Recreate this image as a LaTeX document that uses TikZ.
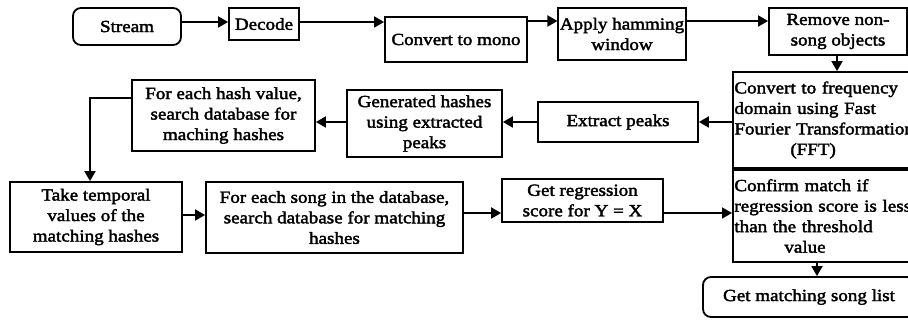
\documentclass[tikz,border=0pt]{standalone}
\usepackage{fontspec}
\setmainfont{Liberation Serif}[FakeStretch=1.12, FakeBold=2.2]
\usetikzlibrary{arrows.meta}
\tikzset{
  box/.style={draw, line width=1.8pt, inner sep=1.5pt, align=center,
    font=\fontsize{17}{20.5}\selectfont},
  lbox/.style={box, align=left, text width=200pt, minimum height=#1, anchor=west},
  rbox/.style={box, rounded corners=8pt},
  flow/.style={line width=1.8pt, -{Triangle[length=10pt,width=11pt]}}
}
\begin{document}
\begin{tikzpicture}[x=1pt, y=-1pt]
\useasboundingbox (0,0) rectangle (908,320);
\clip (0,0) rectangle (908,320);
% top row
\node[rbox, minimum width=108pt, minimum height=37pt] (stream) at (127,26.5) {Stream};
\node[box, minimum width=70pt, minimum height=32pt] (decode) at (264,24) {Decode};
\node[box, minimum width=142pt, minimum height=45pt] (mono) at (456,39.5) {Convert to mono};
\node[box, minimum width=114pt, minimum height=52pt] (hamming) at (622,34) {Apply hamming\\window};
\node[box, minimum width=138pt, minimum height=47pt] (remove) at (838,31.5) {Remove non-\\song objects};
% middle row (boxes on the right run past the edge)
\node[lbox=96pt] (fft) at (732,120)
  {Convert to frequency\\domain using Fast\\Fourier Transformation\\\hspace*{56pt}(FFT)};
\node[box, minimum width=160pt, minimum height=40pt] (peaks) at (618,122) {Extract peaks};
\node[box, minimum width=155pt, minimum height=67pt] (gen) at (424.5,123.5) {Generated hashes\\using extracted\\peaks};
\node[box, minimum width=183pt, minimum height=71pt] (search) at (223.5,115.5) {For each hash value,\\search database for\\maching hashes};
% bottom row
\node[box, minimum width=172pt, minimum height=70pt] (temporal) at (96,217) {Take temporal\\values of the\\matching hashes};
\node[box, minimum width=257pt, minimum height=71pt] (song) at (334.5,217.5) {For each song in the database,\\search database for matching\\hashes};
\node[box, minimum width=161pt, minimum height=43pt] (regress) at (582.5,200.5) {Get regression\\score for Y = X};
\node[lbox=92pt] (confirm) at (732,216)
  {Confirm match if\\regression score is less\\than the threshold\\\hspace*{50pt}value};
\node[rbox, minimum width=212pt, minimum height=40pt] (list) at (809,297) {Get matching song list};
% connectors
\draw[flow] (stream.east |- 0,22) -- (decode.west |- 0,22);
\draw[flow] (decode.east |- 0,22) -- (mono.west |- 0,22);
\draw[flow] (mono.east |- 0,21) -- (hamming.west |- 0,21);
\draw[flow] (hamming.east |- 0,21) -- (remove.west |- 0,21);
\draw[flow] (remove.south -| 837,0) -- (fft.north -| 837,0);
\draw[flow] (fft.west |- 0,122) -- (peaks.east |- 0,122);
\draw[flow] (peaks.west |- 0,122) -- (gen.east |- 0,122);
\draw[flow] (gen.west |- 0,122) -- (search.east |- 0,122);
\coordinate (bend) at (90,98);
\draw[flow] (search.west |- bend) -- (bend) -- (temporal.north -| bend);
\draw[flow] (temporal.east |- 0,215) -- (song.west |- 0,215);
\draw[flow] (song.east |- 0,213) -- (regress.west |- 0,213);
\draw[flow] (regress.east |- 0,213) -- (confirm.west |- 0,213);
\draw[flow] (confirm.south -| 817,0) -- (list.north -| 817,0);
\end{tikzpicture}
\end{document}
